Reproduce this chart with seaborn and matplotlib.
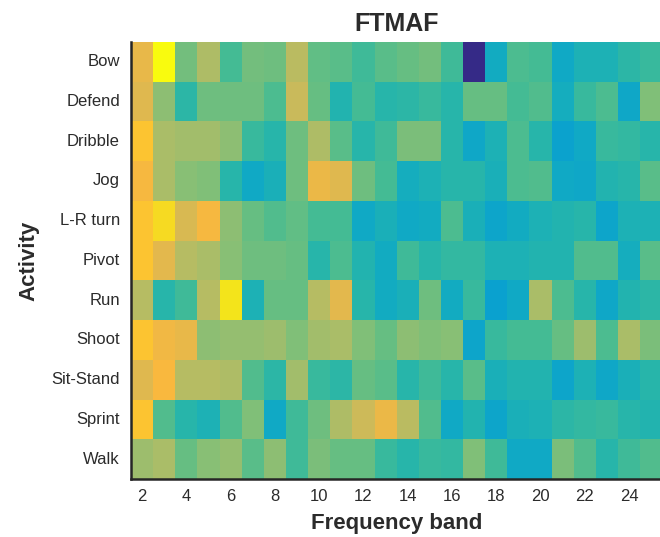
import numpy as np
import pandas as pd
import seaborn as sns
import matplotlib.pyplot as plt
from matplotlib.colors import LinearSegmentedColormap

activities = ['Bow', 'Defend', 'Dribble', 'Jog', 'L-R turn', 'Pivot',
              'Run', 'Shoot', 'Sit-Stand', 'Sprint', 'Walk']
bands = list(range(2, 26))

# normalised FTMAF values per activity, bands 2..25
bow      = [0.81, 1.00, 0.62, 0.71, 0.55, 0.62, 0.61, 0.73, 0.59, 0.58, 0.54, 0.58,
            0.60, 0.62, 0.54, 0.00, 0.45, 0.56, 0.55, 0.44, 0.48, 0.48, 0.51, 0.53]
defend   = [0.79, 0.66, 0.51, 0.61, 0.61, 0.61, 0.56, 0.75, 0.60, 0.49, 0.55, 0.50,
            0.51, 0.53, 0.50, 0.60, 0.60, 0.55, 0.57, 0.46, 0.53, 0.56, 0.43, 0.64]
dribble  = [0.89, 0.70, 0.69, 0.69, 0.66, 0.53, 0.50, 0.61, 0.71, 0.58, 0.50, 0.54,
            0.63, 0.63, 0.50, 0.43, 0.48, 0.56, 0.50, 0.41, 0.44, 0.53, 0.52, 0.50]
jog      = [0.84, 0.70, 0.65, 0.64, 0.50, 0.44, 0.47, 0.61, 0.82, 0.79, 0.61, 0.55,
            0.46, 0.48, 0.50, 0.50, 0.47, 0.56, 0.57, 0.44, 0.43, 0.49, 0.50, 0.58]
lr_turn  = [0.89, 0.93, 0.78, 0.84, 0.66, 0.60, 0.57, 0.59, 0.55, 0.55, 0.44, 0.47,
            0.44, 0.45, 0.56, 0.47, 0.42, 0.45, 0.48, 0.49, 0.50, 0.42, 0.48, 0.48]
pivot    = [0.89, 0.80, 0.72, 0.70, 0.65, 0.61, 0.61, 0.60, 0.50, 0.56, 0.49, 0.45,
            0.54, 0.50, 0.52, 0.52, 0.48, 0.48, 0.49, 0.49, 0.57, 0.57, 0.46, 0.58]
run      = [0.72, 0.50, 0.54, 0.72, 0.95, 0.48, 0.60, 0.60, 0.72, 0.80, 0.50, 0.45,
            0.47, 0.61, 0.45, 0.53, 0.40, 0.44, 0.70, 0.56, 0.50, 0.43, 0.49, 0.51]
shoot    = [0.89, 0.83, 0.81, 0.66, 0.67, 0.67, 0.68, 0.64, 0.69, 0.70, 0.64, 0.60,
            0.66, 0.64, 0.65, 0.42, 0.53, 0.55, 0.55, 0.60, 0.68, 0.56, 0.70, 0.63]
sit_stand = [0.79, 0.85, 0.72, 0.72, 0.71, 0.57, 0.51, 0.69, 0.53, 0.51, 0.60, 0.58,
             0.50, 0.54, 0.50, 0.58, 0.47, 0.49, 0.49, 0.42, 0.48, 0.43, 0.47, 0.50]
sprint   = [0.89, 0.57, 0.50, 0.48, 0.57, 0.64, 0.44, 0.54, 0.61, 0.71, 0.76, 0.82,
            0.73, 0.57, 0.44, 0.49, 0.42, 0.47, 0.48, 0.51, 0.52, 0.53, 0.50, 0.49]
walk     = [0.68, 0.70, 0.60, 0.65, 0.67, 0.58, 0.66, 0.54, 0.63, 0.60, 0.60, 0.53,
            0.50, 0.53, 0.52, 0.64, 0.54, 0.44, 0.44, 0.63, 0.57, 0.50, 0.54, 0.57]

rows = [bow, defend, dribble, jog, lr_turn, pivot, run, shoot, sit_stand, sprint, walk]
df = pd.DataFrame(rows, index=activities, columns=bands)

# parula-like colormap
parula_pts = [
    (0.00, (0.208, 0.166, 0.529)),
    (0.15, (0.060, 0.360, 0.870)),
    (0.30, (0.060, 0.540, 0.850)),
    (0.40, (0.040, 0.630, 0.810)),
    (0.45, (0.070, 0.670, 0.760)),
    (0.50, (0.150, 0.710, 0.670)),
    (0.55, (0.270, 0.735, 0.580)),
    (0.60, (0.400, 0.745, 0.510)),
    (0.65, (0.530, 0.748, 0.460)),
    (0.70, (0.660, 0.740, 0.410)),
    (0.75, (0.780, 0.730, 0.360)),
    (0.80, (0.890, 0.720, 0.300)),
    (0.85, (0.975, 0.720, 0.245)),
    (0.90, (0.990, 0.780, 0.180)),
    (0.95, (0.950, 0.890, 0.110)),
    (1.00, (0.976, 0.983, 0.054)),
]
parula = LinearSegmentedColormap.from_list('parula', parula_pts)

sns.set_style('white')
plt.rcParams['font.family'] = ['Liberation Sans', 'DejaVu Sans']
text_color = '#2b2b2b'

fig = plt.figure(figsize=(6.6, 5.37), dpi=100)
ax = fig.add_axes([0.1985, 0.108, 0.805, 0.814])
sns.heatmap(df, cmap=parula, vmin=0, vmax=1, cbar=False, ax=ax,
            xticklabels=False, yticklabels=True)

tick_bands = [b for b in bands if b % 2 == 0]
ax.set_xticks([bands.index(b) + 0.5 for b in tick_bands])
ax.set_xticklabels([str(b) for b in tick_bands], fontsize=12, color=text_color)
ax.set_yticklabels(activities, rotation=0, fontsize=12, color=text_color)
ax.tick_params(axis='both', direction='in', length=4, width=1.2, color='#262626',
               left=True, bottom=True)
ax.tick_params(axis='y', pad=8)
ax.tick_params(axis='x', pad=7)

for side in ['left', 'bottom']:
    ax.spines[side].set_visible(True)
    ax.spines[side].set_linewidth(1.8)
    ax.spines[side].set_color('#262626')
for side in ['top', 'right']:
    ax.spines[side].set_visible(False)

ax.set_title('FTMAF', fontsize=18, fontweight='bold', color=text_color, pad=8)
ax.set_xlabel('Frequency band', fontsize=16, fontweight='bold', color=text_color)
ax.set_ylabel('Activity', fontsize=16, fontweight='bold', color=text_color)
ax.xaxis.set_label_coords(0.5, -0.078)
ax.yaxis.set_label_coords(-0.172, 0.5)

fig.savefig('out.png', dpi=100)
